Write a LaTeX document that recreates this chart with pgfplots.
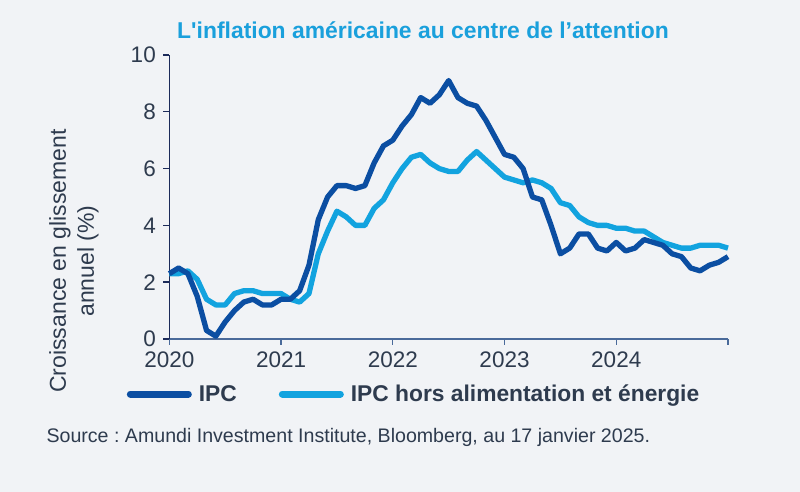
\documentclass[border=0pt]{standalone}
\usepackage{pgfplots}
\pgfplotsset{compat=1.18}
\usepackage{fontspec}
\setmainfont{Liberation Sans}
\newfontfamily\titlefont{Liberation Sans}[Ligatures=ResetAll]
\frenchspacing
\definecolor{bg}{HTML}{F1F3F6}
\definecolor{ipc}{HTML}{0B4EA2}
\definecolor{core}{HTML}{12A3DF}
\definecolor{ttl}{HTML}{1AA0DC}
\definecolor{txt}{HTML}{2E3B4E}
\definecolor{yax}{HTML}{1C2B5A}
\definecolor{xax}{HTML}{4A6A9A}
\pgfplotstableread{
m ipc core
0 2.3 2.3
1 2.5 2.3
2 2.3 2.4
3 1.5 2.1
4 0.3 1.4
5 0.1 1.2
6 0.6 1.2
7 1.0 1.6
8 1.3 1.7
9 1.4 1.7
10 1.2 1.6
11 1.2 1.6
12 1.4 1.6
13 1.4 1.4
14 1.7 1.3
15 2.6 1.6
16 4.2 3.0
17 5.0 3.8
18 5.4 4.5
19 5.4 4.3
20 5.3 4.0
21 5.4 4.0
22 6.2 4.6
23 6.8 4.9
24 7.0 5.5
25 7.5 6.0
26 7.9 6.4
27 8.5 6.5
28 8.3 6.2
29 8.6 6.0
30 9.1 5.9
31 8.5 5.9
32 8.3 6.3
33 8.2 6.6
34 7.7 6.3
35 7.1 6.0
36 6.5 5.7
37 6.4 5.6
38 6.0 5.5
39 5.0 5.6
40 4.9 5.5
41 4.0 5.3
42 3.0 4.8
43 3.2 4.7
44 3.7 4.3
45 3.7 4.1
46 3.2 4.0
47 3.1 4.0
48 3.4 3.9
49 3.1 3.9
50 3.2 3.8
51 3.5 3.8
52 3.4 3.6
53 3.3 3.4
54 3.0 3.3
55 2.9 3.2
56 2.5 3.2
57 2.4 3.3
58 2.6 3.3
59 2.7 3.3
60 2.9 3.2
}\data
\begin{document}
\begin{tikzpicture}
\fill[bg] (0,0) rectangle (800pt,492pt);
\useasboundingbox (0,0) rectangle (800pt,492pt);
\node[text=ttl, font=\fontsize{22.9}{26}\titlefont\bfseries] at (423pt,462pt) {L'inflation américaine au centre de l’attention};
\node[text=txt, rotate=90, align=center, font=\fontsize{23}{28}\selectfont] at (74pt,231pt) {Croissance en glissement\\annuel (\%)};
\node[text=txt, anchor=west, font=\fontsize{19.6}{22}\selectfont] at (43pt,55pt) {Source : Amundi Investment Institute, Bloomberg, au 17 janvier 2025.};
\begin{axis}[
  at={(169.3pt,153pt)}, anchor=south west,
  scale only axis, width=558.7pt, height=284pt,
  xmin=0, xmax=60, ymin=0, ymax=10,
  axis lines=left,
  x axis line style={-, draw=xax, line width=1.6pt},
  y axis line style={-, draw=yax, line width=1.6pt},
  xtick={0,12,24,36,48,60},
  xticklabels={2020,2021,2022,2023,2024,{}},
  ytick={0,2,4,6,8,10},
  tick style={line width=1.4pt},
  x tick style={draw=xax},
  y tick style={draw=yax},
  tickwidth=6pt,
  tick align=outside,
  ticklabel style={text=txt, font=\fontsize{22.5}{26}\selectfont},
  /pgf/number format/assume math mode=true,
  xticklabel style={yshift=-3pt},
  yticklabel style={xshift=-4pt},
  clip=false,
  legend columns=2,
  legend style={at={(-0.076,-0.194)}, anchor=west, draw=none, fill=none,
    font=\fontsize{22.8}{26}\selectfont\bfseries, text=txt,
    /tikz/every even column/.append style={column sep=40pt},
    inner sep=0pt, outer sep=0pt},
  legend image code/.code={\draw[#1, line width=7pt, line cap=round] (0pt,0pt) -- (58pt,0pt);},
]
\addplot[core, line width=5.3pt, line join=round, forget plot] table[x=m, y=core] {\data};
\addplot[ipc, line width=5.3pt, line join=round, forget plot] table[x=m, y=ipc] {\data};
\addlegendimage{ipc}
\addlegendentry{\hspace{5pt}IPC}
\addlegendimage{core}
\addlegendentry{\hspace{5pt}IPC hors alimentation et énergie}
\end{axis}
\end{tikzpicture}
\end{document}
